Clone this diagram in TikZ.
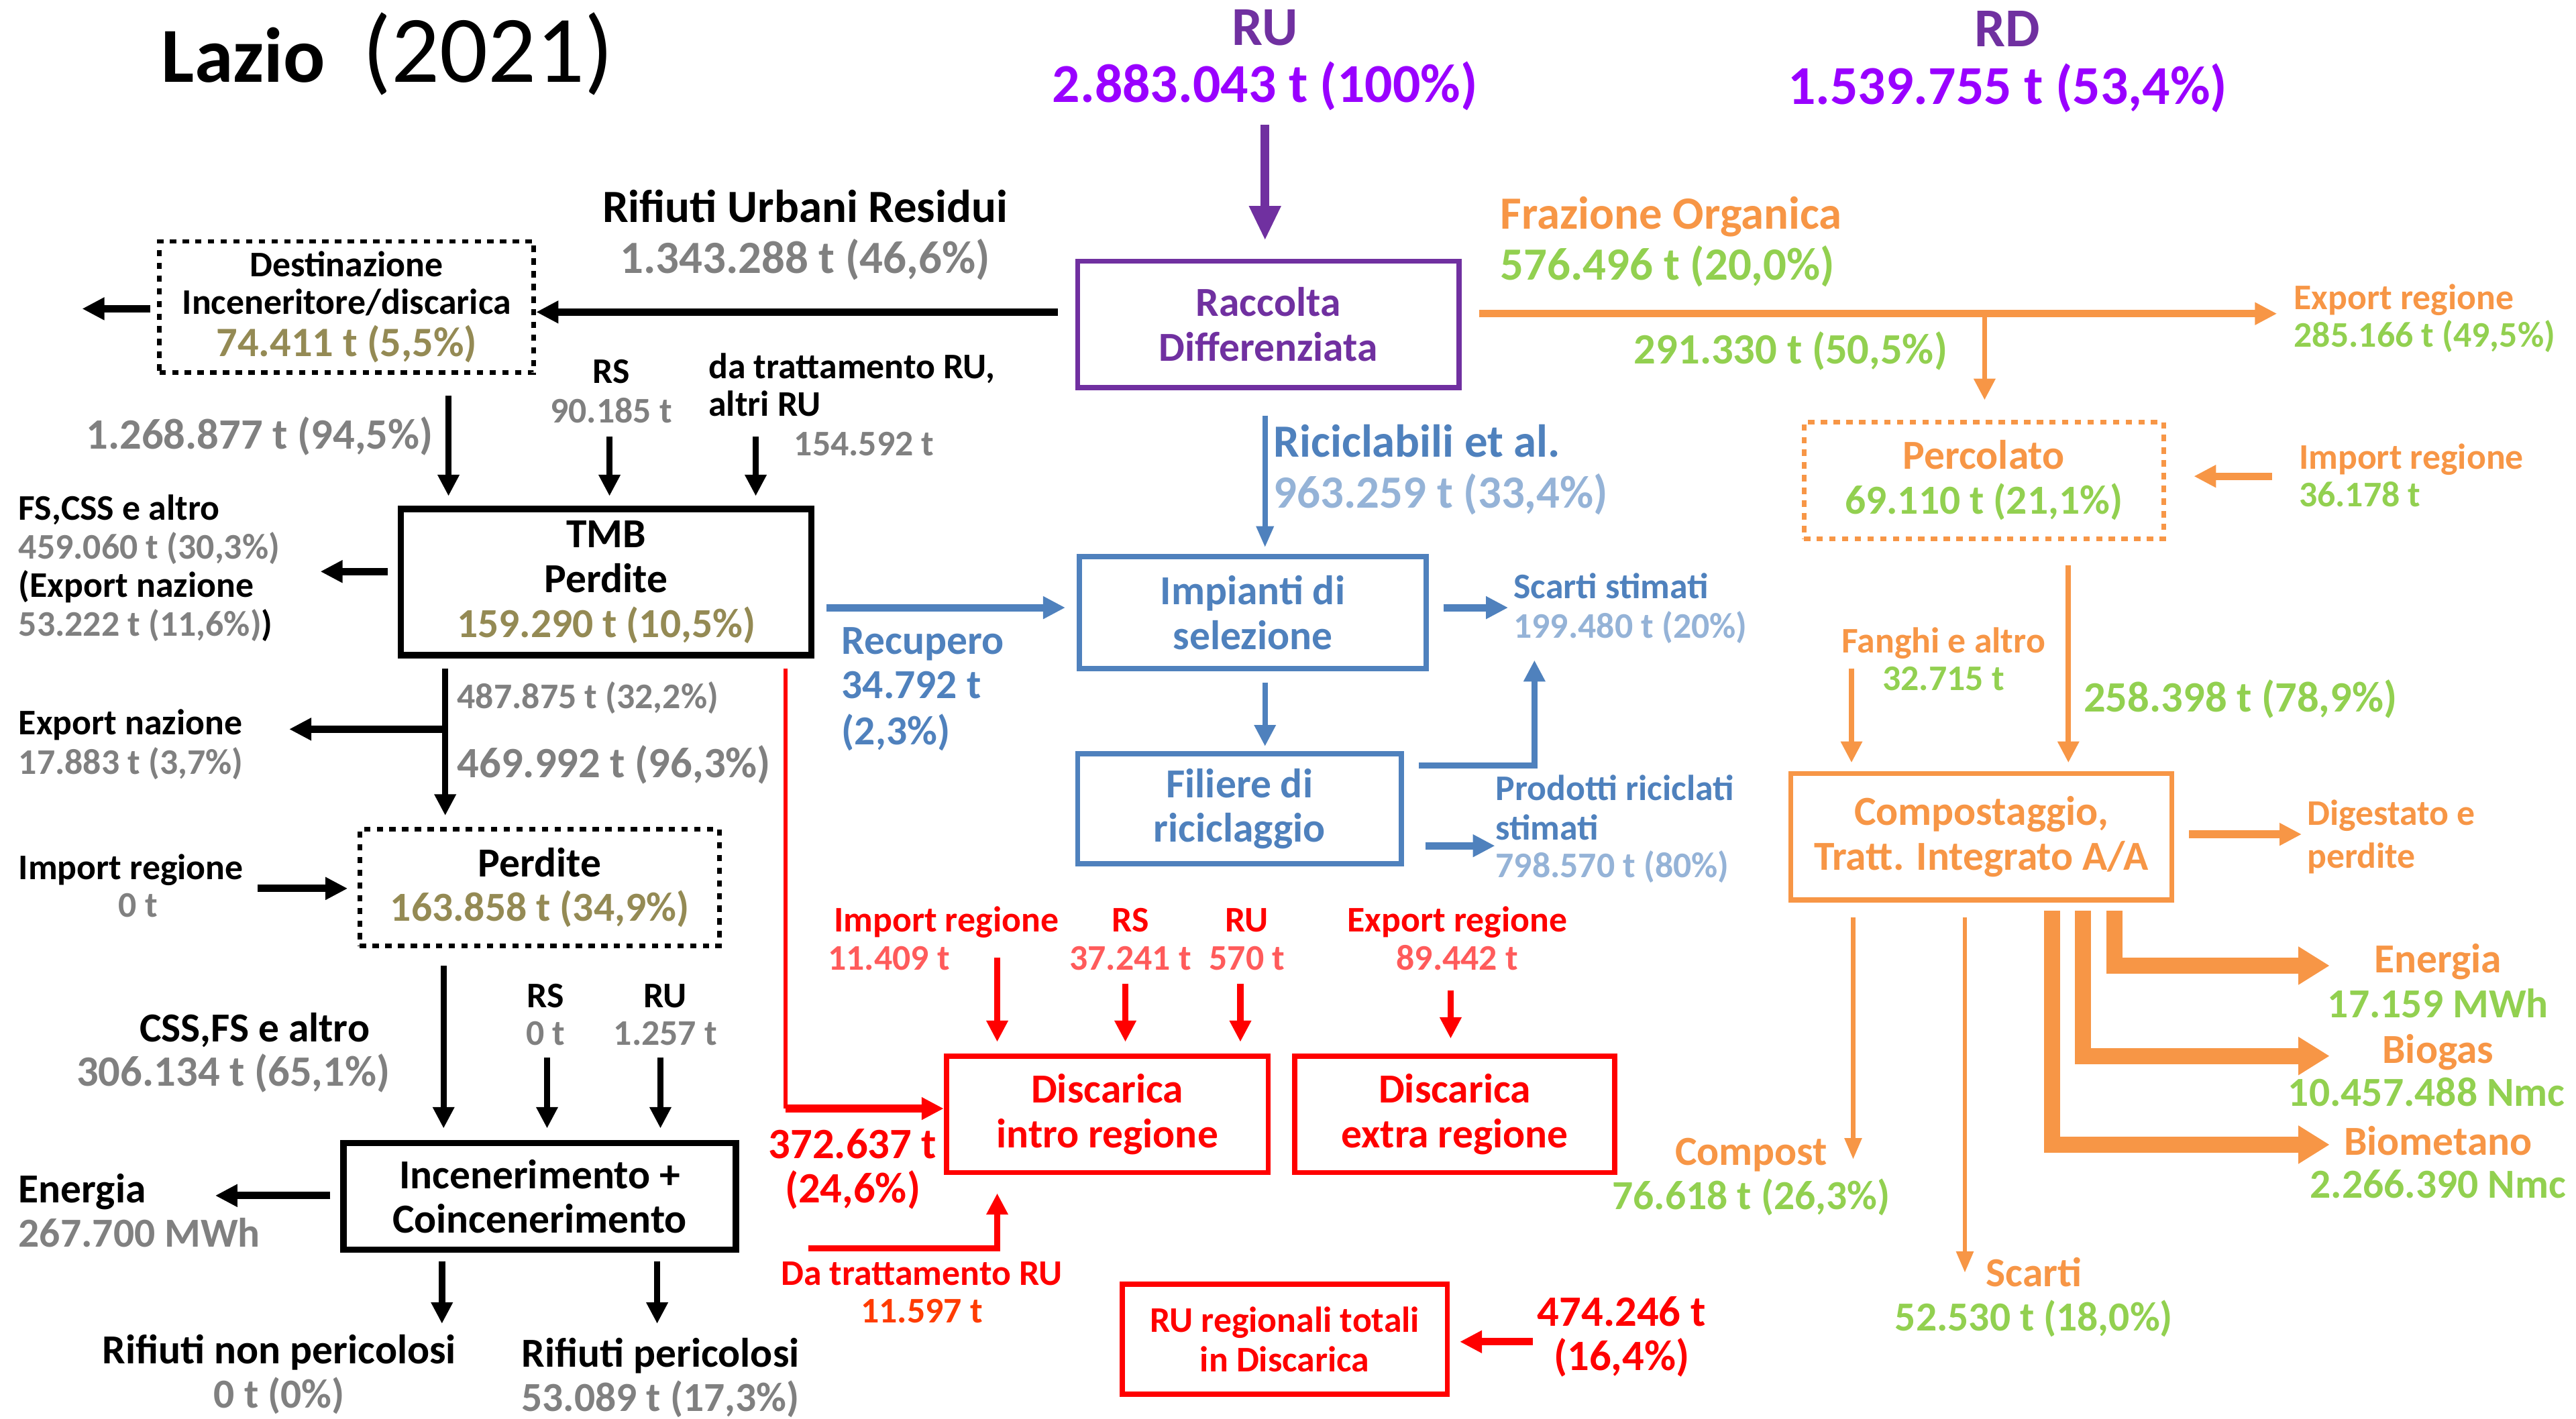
\documentclass[tikz,border=0pt]{standalone}
\usepackage{fontspec}
\setmainfont{Carlito}
\usetikzlibrary{arrows.meta}
\definecolor{purp}{HTML}{7030A0}
\definecolor{viol}{HTML}{9900FF}
\definecolor{oliv}{HTML}{948A54}
\definecolor{gry}{HTML}{808080}
\definecolor{blu}{HTML}{4F81BD}
\definecolor{lblu}{HTML}{95B3D7}
\definecolor{orng}{HTML}{F79646}
\definecolor{grn}{HTML}{92D050}
\definecolor{lred}{HTML}{FF5B5B}
\definecolor{ored}{HTML}{FF3C00}

\begin{document}
\begin{tikzpicture}[x=0.02cm,y=-0.02cm,
  lbl/.style={inner sep=0pt,text height=0.95em,text depth=0.1em},
  hd/.style={lbl,font=\fontsize{19}{22}\selectfont\bfseries},
  bg/.style={lbl,font=\fontsize{16}{18}\selectfont\bfseries},
  mb/.style={lbl,font=\fontsize{15}{17}\selectfont\bfseries},
  md/.style={lbl,font=\fontsize{14.3}{16}\selectfont\bfseries},
  sm/.style={lbl,font=\fontsize{12.5}{14}\selectfont\bfseries},
  bx/.style={draw,line width=1.8pt,align=center,inner sep=0pt,font=\fontsize{14.3}{15.5}\selectfont\bfseries},
  dbx/.style={bx,line width=1.6pt,dash pattern=on 2.2pt off 2.2pt},
  ar/.style={line width=2.2pt,-{Triangle[length=0.26cm,width=0.25cm]}},
  far/.style={line width=2.6pt,-{Triangle[length=0.27cm,width=0.26cm]}},
  tar/.style={line width=1.6pt,-{Triangle[length=0.26cm,width=0.2cm]}},
  bar/.style={line width=5.6pt,orng,-{Triangle[length=0.38cm,width=0.44cm]}}]
\useasboundingbox (0,0) rectangle (1568,864);

% title and totals
\node[anchor=base west,inner sep=0pt] (title) at (98,50)
  {\fontsize{27}{30}\selectfont\bfseries Lazio\hspace{13pt}\fontsize{33}{36}\selectfont\mdseries(2021)};
\node[hd,purp] (ruT) at (770,20) {RU};
\node[hd,viol] (ruN) at (770,55) {2.883.043 t (100\%)};
\node[hd,purp] (rdT) at (1222,21) {RD};
\node[hd,viol] (rdN) at (1222,56) {1.539.755 t (53,4\%)};

% boxes
\node[bx,purp,minimum width=4.64cm,minimum height=1.54cm] (rd) at (772,197.5) {Raccolta\\Differenziata};
\node[dbx,minimum width=4.56cm,minimum height=1.6cm,font=\fontsize{12.5}{13}\selectfont\bfseries] (dest) at (211,187)
  {Destinazione\\Inceneritore/discarica\\[1.5pt]\textcolor{oliv}{\fontsize{14.5}{13}\selectfont 74.411 t (5,5\%)}};
\node[bx,line width=2.2pt,minimum width=5cm,minimum height=1.78cm] (tmb) at (369,354.5)
  {TMB\\Perdite\\\textcolor{oliv}{159.290 t (10,5\%)}};
\node[dbx,minimum width=4.38cm,minimum height=1.42cm] (perd) at (328.5,540.5)
  {Perdite\\\textcolor{oliv}{163.858 t (34,9\%)}};
\node[bx,line width=2.2pt,minimum width=4.78cm,minimum height=1.3cm] (inc) at (328.5,728.5)
  {Incenerimento +\\Coincenerimento};
\node[bx,blu,minimum width=4.22cm,minimum height=1.36cm] (imp) at (762.5,373) {Impianti di\\selezione};
\node[bx,blu,minimum width=3.94cm,minimum height=1.34cm] (fil) at (754.5,492.5) {Filiere di\\riciclaggio};
\node[bx,red,minimum width=3.92cm,minimum height=1.42cm] (dint) at (674,678.5) {Discarica\\intro regione};
\node[bx,red,minimum width=3.9cm,minimum height=1.42cm] (dext) at (885.5,678.5) {Discarica\\extra regione};
\node[bx,red,minimum width=3.96cm,minimum height=1.34cm,font=\fontsize{12.5}{13.6}\selectfont\bfseries] (rutot) at (782,815.5)
  {RU regionali totali\\in Discarica};
\node[dbx,orng,minimum width=4.38cm,minimum height=1.42cm] (perc) at (1207.5,292.5)
  {Percolato\\\textcolor{grn}{69.110 t (21,1\%)}};
\node[bx,orng,minimum width=4.64cm,minimum height=1.54cm] (comp) at (1206,509.5)
  {Compostaggio,\\Tratt. Integrato A/A};

% black flows
\node[bg] (rurT) at (490,128) {Rifiuti Urbani Residui};
\node[bg,gry] (rurN) at (490,159) {1.343.288 t (46,6\%)};
\coordinate (resA) at (644,190);
\draw[far] (resA) -- (resA -| dest.east);
\coordinate (destO) at (50,188);
\draw[far,shorten <=0.08cm] (dest.west |- destO) -- (destO);
\node[mb,gry] (n1268) at (158,266) {1.268.877 t (94,5\%)};
\node[sm] (rsT) at (372,226) {RS};
\node[sm,gry] (rsN) at (372,250) {90.185 t};
\node[sm,anchor=west] (daT) at (431,223) {da trattamento RU,};
\node[sm,anchor=west] (daT2) at (431,246) {altri RU};
\node[sm,gry,anchor=west] (daN) at (483,270) {154.592 t};
\coordinate (tA) at (273,241);
\coordinate (tB) at (371,266);
\coordinate (tC) at (460,266);
\foreach \c in {tA,tB,tC}
  \draw[ar,shorten >=0.12cm] (\c) -- (\c |- tmb.north);

\coordinate (fsO) at (195,348);
\draw[far,shorten <=0.12cm] (tmb.west |- fsO) -- (fsO);
\node[sm,anchor=west] (fsT) at (11,309) {FS,CSS e altro};
\node[sm,gry,anchor=west] (fsN) at (11,333) {459.060 t (30,3\%)};
\node[sm,anchor=west] (fsT2) at (11,356) {(Export nazione};
\node[sm,anchor=west] (fsN2) at (11,380) {\textcolor{gry}{53.222 t (11,6\%)})};

\coordinate (dA) at (271,444);
\draw[ar,shorten <=0.12cm,shorten >=0.14cm] (tmb.south -| dA) -- (dA |- perd.north);
\coordinate (exO) at (176,444);
\draw[far] (dA) -- (exO);
\node[sm,gry,anchor=west] (n487) at (278,424) {487.875 t (32,2\%)};
\node[mb,gry,anchor=west] (n469) at (278,466) {469.992 t (96,3\%)};
\node[sm,anchor=west] (exT) at (11,440) {Export nazione};
\node[sm,gry,anchor=west] (exN) at (11,464) {17.883 t (3,7\%)};

\coordinate (imI) at (157,541);
\draw[far,shorten >=0.12cm] (imI) -- (imI -| perd.west);
\node[sm,anchor=west] (imT) at (11,528) {Import regione};
\node[sm,gry] (imN) at (84,551) {0 t};

\coordinate (pA) at (270,588);
\coordinate (pB) at (333,644);
\coordinate (pC) at (402,644);
\foreach \c in {pA,pB,pC}
  \draw[ar,shorten >=0.14cm] (\c) -- (\c |- inc.north);
\node[md] (cssT) at (155,627) {CSS,FS e altro};
\node[mb,gry] (cssN) at (142,654) {306.134 t (65,1\%)};
\node[sm] (rs2T) at (332,606) {RS};
\node[sm,gry] (rs2N) at (332,629) {0 t};
\node[sm] (ru2T) at (405,606) {RU};
\node[sm,gry] (ru2N) at (405,629) {1.257 t};

\coordinate (enO) at (131,728);
\draw[far,shorten <=0.12cm] (inc.west |- enO) -- (enO);
\node[md,anchor=west] (enT) at (11,725) {Energia};
\node[md,gry,anchor=west] (enN) at (11,752) {267.700 MWh};

\coordinate (nA) at (269,806);
\coordinate (nB) at (400,806);
\foreach \c in {nA,nB}
  \draw[ar,shorten <=0.1cm] (inc.south -| \c) -- (\c);
\node[md] (npT) at (170,823) {Rifiuti non pericolosi};
\node[md,gry] (npN) at (170,850) {0 t (0\%)};
\node[md] (pT) at (402,825) {Rifiuti pericolosi};
\node[md,gry] (pN) at (402,852) {53.089 t (17,3\%)};

% purple
\coordinate (ruA) at (770,76);
\draw[purp,line width=3pt,-{Triangle[length=0.42cm,width=0.36cm]},shorten >=0.22cm] (ruA) -- (ruA |- rd.north);

% blue flows
\coordinate (ricA) at (770,253);
\draw[blu,tar,line width=1.8pt,shorten >=0.08cm] (ricA) -- (ricA |- imp.north);
\node[bg,blu,anchor=west] (ricT) at (775,271) {Riciclabili et al.};
\node[bg,lblu,anchor=west] (ricN) at (775,302) {963.259 t (33,4\%)};
\coordinate (recA) at (503,370);
\draw[blu,far,shorten >=0.14cm] (recA) -- (recA -| imp.west);
\node[md,blu,anchor=west] (recT) at (512,391) {Recupero};
\node[md,blu,anchor=west] (recN) at (512,418) {34.792 t};
\node[md,blu,anchor=west] (recP) at (512,446) {(2,3\%)};
\coordinate (scO) at (918,370);
\draw[blu,far,shorten <=0.18cm] (imp.east |- scO) -- (scO);
\node[sm,blu,anchor=west] (scT) at (921,357) {Scarti stimati};
\node[sm,lblu,anchor=west] (scN) at (921,381) {199.480 t (20\%)};
\draw[blu,ar,line width=1.8pt,shorten <=0.14cm,shorten >=0.06cm] (imp.south -| ricA) -- (ricA |- fil.north);
\coordinate (fuA) at (934,466);
\coordinate (fuO) at (934,402);
\draw[blu,ar,line width=2pt,shorten <=0.18cm] (fil.east |- fuA) -| (fuO);
\coordinate (prO) at (910,515);
\draw[blu,far,shorten <=0.26cm] (fil.east |- prO) -- (prO);
\node[sm,blu,anchor=west] (prT) at (910,480) {Prodotti riciclati};
\node[sm,blu,anchor=west] (prT2) at (910,504) {stimati};
\node[sm,lblu,anchor=west] (prN) at (910,527) {798.570 t (80\%)};

% red flows
\coordinate (rvA) at (478,675);
\draw[red,line width=1.4pt,shorten <=0.12cm] (tmb.south -| rvA) -- (rvA);
\draw[red,far] (rvA) -- (rvA -| dint.west);
\node[mb,red] (n372) at (519,698) {372.637 t};
\node[mb,red] (n372p) at (519,725) {(24,6\%)};
\coordinate (dtA) at (492,760);
\coordinate (dtB) at (607,760);
\draw[red,ar,shorten >=0.22cm] (dtA) -- (dtB) -- (dtB |- dint.south);
\node[sm,red] (dtT) at (561,775) {Da trattamento RU};
\node[sm,ored] (dtN) at (561,798) {11.597 t};
\coordinate (ri1) at (607,583);
\coordinate (ri2) at (685,599);
\coordinate (ri3) at (755,599);
\coordinate (ri4) at (883,603);
\foreach \c in {ri1,ri2,ri3}
  \draw[red,ar,shorten >=0.14cm] (\c) -- (\c |- dint.north);
\draw[red,ar,shorten >=0.18cm] (ri4) -- (ri4 |- dext.north);
\node[sm,red] (riT) at (576,560) {Import regione};
\node[sm,lred] (riN) at (541,583) {11.409 t};
\node[sm,red] (rrsT) at (688,560) {RS};
\node[sm,lred] (rrsN) at (688,583) {37.241 t};
\node[sm,red] (rruT) at (759,560) {RU};
\node[sm,lred] (rruN) at (759,583) {570 t};
\node[sm,red] (reT) at (887,560) {Export regione};
\node[sm,lred] (reN) at (887,583) {89.442 t};
\coordinate (totA) at (933,817);
\draw[red,far,shorten >=0.12cm] (totA) -- (totA -| rutot.east);
\node[mb,red] (n474) at (987,800) {474.246 t};
\node[mb,red] (n474p) at (987,827) {(16,4\%)};

% orange flows
\node[bg,orng,anchor=west] (foT) at (913,132) {Frazione Organica};
\node[bg,grn,anchor=west] (foN) at (913,163) {576.496 t (20,0\%)};
\coordinate (foO) at (1386,191);
\draw[orng,far,shorten <=0.22cm] (rd.east |- foO) -- (foO);
\node[sm,orng,anchor=west] (oeT) at (1396,181) {Export regione};
\node[sm,grn,anchor=west] (oeN) at (1396,204) {285.166 t (49,5\%)};
\coordinate (foB) at (1208,191);
\draw[orng,ar,line width=1.8pt,shorten >=0.24cm] (foB) -- (foB |- perc.north);
\node[mb,grn] (n291) at (1090,214) {291.330 t (50,5\%)};
\coordinate (oiI) at (1383,290);
\draw[orng,far,shorten >=0.34cm] (oiI) -- (oiI -| perc.east);
\node[sm,orng,anchor=west] (oiT) at (1399,278) {Import regione};
\node[sm,grn,anchor=west] (oiN) at (1399,301) {36.178 t};
\coordinate (pcA) at (1259,466);
\draw[orng,ar,line width=1.8pt,shorten <=0.3cm,shorten >=0.1cm] (perc.south -| pcA) -- (pcA |- comp.north);
\node[mb,grn,anchor=west] (n258) at (1268,426) {258.398 t (78,9\%)};
\coordinate (fgA) at (1127,407);
\draw[orng,ar,line width=1.8pt,shorten >=0.1cm] (fgA) -- (fgA |- comp.north);
\node[sm,orng] (fgT) at (1183,390) {Fanghi e altro};
\node[sm,grn] (fgN) at (1183,413) {32.715 t};
\coordinate (dgO) at (1401,508);
\draw[orng,far,shorten <=0.18cm] (comp.east |- dgO) -- (dgO);
\node[sm,orng,anchor=west] (dgT) at (1404,495) {Digestato e};
\node[sm,orng,anchor=west] (dgT2) at (1404,521) {perdite};
\coordinate (cpO) at (1128,706);
\coordinate (sqO) at (1196,775);
\foreach \c in {cpO,sqO}
  \draw[orng,tar,shorten <=0.18cm] (comp.south -| \c) -- (\c);
\node[md,orng] (cpT) at (1066,702) {Compost};
\node[md,grn] (cpN) at (1066,729) {76.618 t (26,3\%)};
\node[md,orng] (sqT) at (1238,776) {Scarti};
\node[md,grn] (sqN) at (1238,803) {52.530 t (18,0\%)};
\coordinate (beA) at (1287,588);
\coordinate (bgA) at (1268,643);
\coordinate (bmA) at (1249,697);
\coordinate (beO) at (1418,588);
\coordinate (bgO) at (1418,643);
\coordinate (bmO) at (1418,697);
\draw[bar,shorten <=0.1cm] (comp.south -| beA) |- (beO);
\draw[bar,shorten <=0.1cm] (comp.south -| bgA) |- (bgO);
\draw[bar,shorten <=0.1cm] (comp.south -| bmA) |- (bmO);
\node[md,orng] (beT) at (1484,585) {Energia};
\node[md,grn] (beN) at (1484,612) {17.159 MWh};
\node[md,orng] (bgT) at (1484,640) {Biogas};
\node[md,grn] (bgN) at (1477,666) {10.457.488 Nmc};
\node[md,orng] (bmT) at (1484,696) {Biometano};
\node[md,grn] (bmN) at (1484,722) {2.266.390 Nmc};
\end{tikzpicture}
\end{document}
